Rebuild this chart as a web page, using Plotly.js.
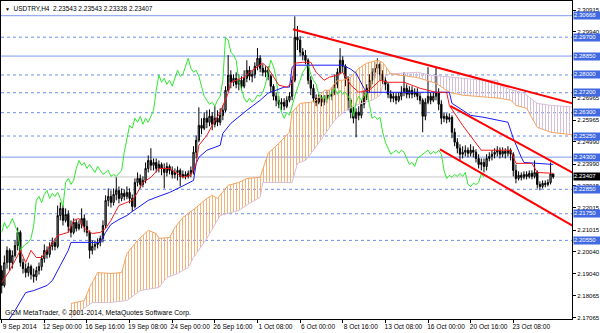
<!DOCTYPE html>
<html><head><meta charset="utf-8">
<script src="https://cdn.plot.ly/plotly-3.0.1.min.js"></script>
<style>html,body{margin:0;padding:0;background:#fff}#chart{width:600px;height:333px}</style>
</head><body><div id="chart"></div>
<script>
const symbol = 'USDTRY';
const timeframe = 'H4';
const barOpen = [2.1919,2.1852,2.1955,2.2010,2.1955,2.1987,2.2032,2.2091,2.1955,2.1928,
2.1910,2.1937,2.1901,2.1892,2.1919,2.1937,2.1973,2.2010,2.1992,2.2028,
2.2046,2.2028,2.2167,2.2199,2.2145,2.2172,2.2118,2.2091,2.2136,2.2109,
2.2127,2.2154,2.2118,2.2091,2.2010,2.2028,2.2037,2.2046,2.2064,2.2122,
2.2235,2.2253,2.2226,2.2262,2.2280,2.2244,2.2267,2.2253,2.2271,2.2244,
2.2208,2.2316,2.2334,2.2307,2.2325,2.2379,2.2415,2.2393,2.2406,2.2379,
2.2397,2.2379,2.2361,2.2388,2.2370,2.2352,2.2361,2.2370,2.2343,2.2352,
2.2343,2.2357,2.2370,2.2452,2.2506,2.2573,2.2560,2.2605,2.2587,2.2614,
2.2578,2.2605,2.2587,2.2618,2.2641,2.2731,2.2799,2.2767,2.2785,2.2758,
2.2776,2.2749,2.2785,2.2821,2.2794,2.2803,2.2839,2.2875,2.2830,2.2812,
2.2821,2.2794,2.2749,2.2704,2.2686,2.2668,2.2677,2.2659,2.2686,2.2704,
2.2776,2.2970,2.2957,2.2903,2.2889,2.2866,2.2776,2.2740,2.2695,2.2677,
2.2695,2.2677,2.2690,2.2709,2.2704,2.2722,2.2758,2.2812,2.2866,2.2839,
2.2785,2.2686,2.2632,2.2605,2.2632,2.2618,2.2668,2.2704,2.2740,2.2776,
2.2812,2.2830,2.2848,2.2803,2.2776,2.2758,2.2713,2.2695,2.2704,2.2686,
2.2704,2.2722,2.2740,2.2713,2.2731,2.2713,2.2722,2.2704,2.2686,2.2614,
2.2677,2.2704,2.2686,2.2704,2.2722,2.2668,2.2605,2.2614,2.2600,2.2609,
2.2542,2.2497,2.2470,2.2443,2.2452,2.2461,2.2447,2.2461,2.2452,2.2424,
2.2397,2.2406,2.2388,2.2424,2.2433,2.2443,2.2452,2.2461,2.2443,2.2456,
2.2447,2.2461,2.2443,2.2370,2.2334,2.2348,2.2339,2.2352,2.2343,2.2357,
2.2343,2.2361,2.2307,2.2298,2.2312,2.2307,2.2316,2.23543];
const barHigh = [2.1942,2.1987,2.2028,2.2019,2.2010,2.2055,2.2113,2.2100,2.1973,2.1951,
2.1955,2.1946,2.1928,2.1937,2.1955,2.1987,2.2037,2.2028,2.2046,2.2068,
2.2064,2.2212,2.2226,2.2212,2.2199,2.2190,2.2145,2.2154,2.2149,2.2145,
2.2199,2.2172,2.2145,2.2100,2.2055,2.2055,2.2064,2.2077,2.2145,2.2258,
2.2289,2.2280,2.2289,2.2339,2.2298,2.2289,2.2285,2.2298,2.2289,2.2262,
2.2334,2.2361,2.2352,2.2343,2.2406,2.2438,2.2470,2.2424,2.2424,2.2415,
2.2406,2.2402,2.2406,2.2397,2.2388,2.2379,2.2388,2.2379,2.2370,2.2366,
2.2370,2.2388,2.2479,2.2528,2.2654,2.2605,2.2632,2.2641,2.2645,2.2632,
2.2659,2.2641,2.2650,2.2663,2.2749,2.2889,2.2821,2.2803,2.2812,2.2803,
2.2794,2.2821,2.2866,2.2839,2.2821,2.2857,2.2921,2.2889,2.2848,2.2839,
2.2839,2.2803,2.2758,2.2722,2.2704,2.2695,2.2695,2.2704,2.2722,2.2794,
2.3064,2.3020,2.2975,2.2921,2.2912,2.2875,2.2794,2.2758,2.2713,2.2713,
2.2709,2.2709,2.2731,2.2731,2.2740,2.2803,2.2830,2.2921,2.2884,2.2848,
2.2794,2.2695,2.2659,2.2650,2.2659,2.2686,2.2731,2.2758,2.2803,2.2830,
2.2857,2.2875,2.2857,2.2821,2.2794,2.2767,2.2731,2.2722,2.2722,2.2722,
2.2749,2.2812,2.2758,2.2749,2.2749,2.2740,2.2740,2.2722,2.2695,2.2695,
2.2835,2.2722,2.2722,2.2835,2.2740,2.2686,2.2632,2.2627,2.2627,2.2618,
2.2560,2.2515,2.2488,2.2479,2.2483,2.2474,2.2488,2.2479,2.2465,2.2443,
2.2424,2.2424,2.2443,2.2452,2.2461,2.2470,2.2479,2.2474,2.2474,2.2470,
2.2479,2.2470,2.2452,2.2397,2.2366,2.2361,2.2366,2.2366,2.2370,2.2370,
2.2415,2.2370,2.2321,2.2325,2.2325,2.2330,2.2406,2.23543];
const barLow = [2.1816,2.1843,2.1928,2.1919,2.1928,2.1978,2.2010,2.1937,2.1906,2.1888,
2.1892,2.1879,2.1865,2.1874,2.1901,2.1919,2.1955,2.1973,2.1978,2.2010,
2.2010,2.2019,2.2145,2.2122,2.2136,2.2091,2.2068,2.2082,2.2095,2.2100,
2.2109,2.2091,2.2073,2.1973,2.1992,2.2010,2.2019,2.2028,2.2046,2.2109,
2.2208,2.2203,2.2212,2.2235,2.2222,2.2231,2.2235,2.2240,2.2222,2.2185,
2.2199,2.2298,2.2289,2.2294,2.2312,2.2361,2.2370,2.2370,2.2361,2.2361,
2.2348,2.2289,2.2343,2.2352,2.2334,2.2334,2.2325,2.2298,2.2334,2.2330,
2.2334,2.2339,2.2352,2.2424,2.2497,2.2533,2.2551,2.2560,2.2569,2.2551,
2.2564,2.2569,2.2573,2.2596,2.2632,2.2722,2.2740,2.2749,2.2740,2.2731,
2.2731,2.2740,2.2767,2.2776,2.2767,2.2785,2.2821,2.2812,2.2794,2.2790,
2.2776,2.2722,2.2686,2.2659,2.2650,2.2641,2.2641,2.2650,2.2677,2.2686,
2.2767,2.2912,2.2884,2.2866,2.2848,2.2758,2.2709,2.2677,2.2659,2.2668,
2.2659,2.2663,2.2672,2.2686,2.2686,2.2709,2.2740,2.2803,2.2812,2.2749,
2.2641,2.2605,2.2582,2.2519,2.2596,2.2605,2.2650,2.2686,2.2722,2.2758,
2.2785,2.2803,2.2776,2.2758,2.2731,2.2695,2.2677,2.2677,2.2668,2.2677,
2.2686,2.2704,2.2695,2.2695,2.2695,2.2700,2.2686,2.2668,2.2542,2.2596,
2.2668,2.2668,2.2677,2.2686,2.2641,2.2578,2.2587,2.2582,2.2587,2.2515,
2.2479,2.2447,2.2415,2.2424,2.2433,2.2429,2.2433,2.2429,2.2406,2.2379,
2.2370,2.2361,2.2370,2.2411,2.2415,2.2424,2.2433,2.2424,2.2429,2.2424,
2.2433,2.2415,2.2343,2.2312,2.2325,2.2325,2.2330,2.2330,2.2334,2.2330,
2.2334,2.2289,2.2280,2.2289,2.2294,2.2298,2.2307,2.23328];
const barClose = [2.1852,2.1955,2.2010,2.1955,2.1987,2.2032,2.2091,2.1955,2.1928,2.1910,
2.1937,2.1901,2.1892,2.1919,2.1937,2.1973,2.2010,2.1992,2.2028,2.2046,
2.2028,2.2167,2.2199,2.2145,2.2172,2.2118,2.2091,2.2136,2.2109,2.2127,
2.2154,2.2118,2.2091,2.2010,2.2028,2.2037,2.2046,2.2064,2.2122,2.2235,
2.2253,2.2226,2.2262,2.2280,2.2244,2.2267,2.2253,2.2271,2.2244,2.2208,
2.2316,2.2334,2.2307,2.2325,2.2379,2.2415,2.2393,2.2406,2.2379,2.2397,
2.2379,2.2361,2.2388,2.2370,2.2352,2.2361,2.2370,2.2343,2.2352,2.2343,
2.2357,2.2370,2.2452,2.2506,2.2573,2.2560,2.2605,2.2587,2.2614,2.2578,
2.2605,2.2587,2.2618,2.2641,2.2731,2.2799,2.2767,2.2785,2.2758,2.2776,
2.2749,2.2785,2.2821,2.2794,2.2803,2.2839,2.2875,2.2830,2.2812,2.2821,
2.2794,2.2749,2.2704,2.2686,2.2668,2.2677,2.2659,2.2686,2.2704,2.2776,
2.2970,2.2957,2.2903,2.2889,2.2866,2.2776,2.2740,2.2695,2.2677,2.2695,
2.2677,2.2690,2.2709,2.2704,2.2722,2.2758,2.2812,2.2866,2.2839,2.2785,
2.2686,2.2632,2.2605,2.2632,2.2618,2.2668,2.2704,2.2740,2.2776,2.2812,
2.2830,2.2848,2.2803,2.2776,2.2758,2.2713,2.2695,2.2704,2.2686,2.2704,
2.2722,2.2740,2.2713,2.2731,2.2713,2.2722,2.2704,2.2686,2.2614,2.2677,
2.2704,2.2686,2.2704,2.2722,2.2668,2.2605,2.2614,2.2600,2.2609,2.2542,
2.2497,2.2470,2.2443,2.2452,2.2461,2.2447,2.2461,2.2452,2.2424,2.2397,
2.2406,2.2388,2.2424,2.2433,2.2443,2.2452,2.2461,2.2443,2.2456,2.2447,
2.2461,2.2443,2.2370,2.2334,2.2348,2.2339,2.2352,2.2343,2.2357,2.2343,
2.2361,2.2307,2.2298,2.2312,2.2307,2.2316,2.2354,2.23407];

const tickBars = [0,16,32,48,64,80,96,112,128,144,160,176,192];
const tickLabels = ['9 Sep 2014','12 Sep 00:00','16 Sep 16:00','19 Sep 08:00','24 Sep 00:00','26 Sep 16:00','1 Oct 08:00','6 Oct 00:00','8 Oct 16:00','13 Oct 08:00','16 Oct 00:00','20 Oct 16:00','23 Oct 08:00'];
const priceTicks = [2.30915,2.29940,2.26965,2.25965,2.24990,2.23990,2.23015,2.22015,2.21015,2.20040,2.19040,2.18065,2.17065];

const tenkanBars = [0,3,6,7,9,11,13,15,17,19,21,25,27,29,31,34,37,39,41,43,44,47,49,51,53,56,59,63,66,68,71,73,74,77,79,82,85,86,88,91,93,96,98,100,102,104,107,109,110,113,116,118,121,123,126,128,131,134,138,142,145,151,157,163,167,168,173,177,180,186,191,193,199,201,207];
const tenkanVals = [2.1865,2.1919,2.1987,2.2010,2.1955,2.2010,2.1978,2.1978,2.2010,2.2046,2.2077,2.2091,2.2145,2.2154,2.2109,2.2086,2.2091,2.2109,2.2145,2.2190,2.2212,2.2226,2.2235,2.2271,2.2316,2.2339,2.2379,2.2379,2.2357,2.2339,2.2348,2.2402,2.2483,2.2528,2.2573,2.2632,2.2718,2.2767,2.2776,2.2790,2.2812,2.2835,2.2853,2.2830,2.2790,2.2754,2.2745,2.2763,2.2853,2.2857,2.2857,2.2812,2.2776,2.2790,2.2799,2.2812,2.2754,2.2722,2.2731,2.2776,2.2767,2.2767,2.2740,2.2722,2.2722,2.2663,2.2573,2.2506,2.2461,2.2461,2.2461,2.2402,2.2402,2.2361,2.2357];
const kijunBars = [2,5,9,12,17,19,22,25,26,37,39,41,44,47,49,52,55,58,63,67,72,73,74,77,82,83,86,92,97,100,106,108,109,110,128,131,133,136,137,168,169,176,181,190,192,195,196,207];
const kijunVals = [2.1685,2.1739,2.1820,2.1829,2.1852,2.1874,2.1942,2.2010,2.2046,2.2046,2.2091,2.2127,2.2149,2.2167,2.2185,2.2208,2.2235,2.2249,2.2271,2.2294,2.2325,2.2402,2.2429,2.2461,2.2483,2.2537,2.2582,2.2641,2.2686,2.2718,2.2745,2.2745,2.2835,2.2844,2.2844,2.2826,2.2808,2.2740,2.2722,2.2722,2.2672,2.2618,2.2609,2.2587,2.2515,2.2429,2.2406,2.2397];
const spanABars = [26,31,33,36,41,45,47,51,55,58,59,63,65,68,73,77,79,81,85,89,92,97,100,104,108,109,112,116,118,121,123,126,128,131,134,137,141,143,146,151,156,163,168,173,181,187,191,193,197,201,206,216];
const spanAVals = [2.1771,2.1784,2.1843,2.1910,2.1906,2.1910,2.1996,2.2055,2.2100,2.2086,2.2064,2.2068,2.2113,2.2158,2.2203,2.2244,2.2258,2.2244,2.2303,2.2316,2.2334,2.2339,2.2447,2.2492,2.2542,2.2632,2.2672,2.2677,2.2686,2.2731,2.2731,2.2776,2.2776,2.2790,2.2830,2.2853,2.2866,2.2857,2.2805,2.2795,2.2788,2.2763,2.2722,2.2709,2.2700,2.2695,2.2686,2.2663,2.2650,2.2564,2.2542,2.2528];
const spanBBars = [26,34,40,47,52,59,62,66,70,72,77,82,89,93,97,98,109,111,114,117,121,125,129,134,139,142,144,146,156,161,168,181,186,188,196,201,206,216];
const spanBVals = [2.1707,2.1775,2.1775,2.1784,2.1829,2.1843,2.1888,2.1906,2.1933,2.1978,2.2064,2.2167,2.2190,2.2222,2.2249,2.2316,2.2316,2.2402,2.2415,2.2461,2.2528,2.2596,2.2641,2.2668,2.2686,2.2709,2.2795,2.2805,2.2812,2.2799,2.2790,2.2776,2.2776,2.2745,2.2718,2.2672,2.2663,2.2654];
const cloudTwistBar = 146;
const chikouShift = 26;

const solidLevels = [2.30668, 2.28850, 2.24300];
const dashedLevels = [2.29700, 2.28000, 2.27200, 2.26300, 2.25250, 2.22850, 2.21750, 2.20550];

const trend1Bars = [109.35, 216], trend1Prices = [2.3006, 2.2666];
const trend2Bars = [168.3, 216], trend2Prices = [2.2661, 2.2348];
const trend3Bars = [164.5, 216], trend3Prices = [2.2465, 2.2109];

const copyright = 'GCM MetaTrader, \u00a9 2001-2014, MetaQuotes Software Corp.';

// ---------- build ----------
const FONT = 'Liberation Sans, Arial, sans-serif';
const idx = barOpen.map((_, i) => i);
const last = barClose.length - 1;

function seg(bars, vals, lo, hi) {
  const xs = [], ys = [];
  bars.forEach((b, i) => { if (b >= lo && b <= hi) { xs.push(b); ys.push(vals[i]); } });
  return {x: xs, y: ys};
}
const aUp = seg(spanABars, spanAVals, -1e9, cloudTwistBar);
const bUp = seg(spanBBars, spanBVals, -1e9, cloudTwistBar);
const aDn = seg(spanABars, spanAVals, cloudTwistBar, 1e9);
const bDn = seg(spanBBars, spanBVals, cloudTwistBar, 1e9);

const SANDY = '#F4A460', THISTLE = '#D8BFD8';
const traces = [
  {type:'scatter', mode:'lines', x:bUp.x, y:bUp.y, line:{color:THISTLE, width:1}},
  {type:'scatter', mode:'lines', x:aUp.x, y:aUp.y, line:{color:SANDY, width:1}, fill:'tonexty',
   fillcolor:SANDY, fillpattern:{shape:'|', size:3, solidity:0.34, fgcolor:SANDY, bgcolor:'rgba(0,0,0,0)', fgopacity:0.85}},
  {type:'scatter', mode:'lines', x:bDn.x, y:bDn.y, line:{color:THISTLE, width:1}},
  {type:'scatter', mode:'lines', x:aDn.x, y:aDn.y, line:{color:SANDY, width:1}, fill:'tonexty',
   fillcolor:THISTLE, fillpattern:{shape:'|', size:3, solidity:0.34, fgcolor:THISTLE, bgcolor:'rgba(0,0,0,0)', fgopacity:1}},
  {type:'candlestick', x:idx, open:barOpen, high:barHigh, low:barLow, close:barClose, whiskerwidth:0,
   increasing:{line:{color:'#000', width:1}, fillcolor:'#A4A4A4'},
   decreasing:{line:{color:'#000', width:1}, fillcolor:'#000'}},
  {type:'scatter', mode:'lines', x:barClose.slice(chikouShift).map((_, j) => j), y:barClose.slice(chikouShift), line:{color:'#2EE82E', width:1}},
  {type:'scatter', mode:'lines', x:kijunBars, y:kijunVals, line:{color:'#1A1AF5', width:1}},
  {type:'scatter', mode:'lines', x:tenkanBars, y:tenkanVals, line:{color:'#F51A1A', width:1}},
  {type:'scatter', mode:'lines', x:trend1Bars, y:trend1Prices, line:{color:'#FF0000', width:2}},
  {type:'scatter', mode:'lines', x:trend2Bars, y:trend2Prices, line:{color:'#FF0000', width:2}},
  {type:'scatter', mode:'lines', x:trend3Bars, y:trend3Prices, line:{color:'#FF0000', width:2}}
];

const shapes = [];
solidLevels.forEach(v => shapes.push({type:'line', xref:'paper', x0:0, x1:1, yref:'y', y0:v, y1:v, layer:'below', line:{color:'#7F9BEA', width:1}}));
dashedLevels.forEach(v => shapes.push({type:'line', xref:'paper', x0:0, x1:1, yref:'y', y0:v, y1:v, layer:'below', line:{color:'#6F8DE8', width:1, dash:'3px,3px'}}));
shapes.push({type:'line', xref:'paper', x0:0, x1:1, yref:'y', y0:barClose[last], y1:barClose[last], layer:'below', line:{color:'#C8C8C8', width:1}});

const boxFont = {family:FONT, size:6, color:'#fff'};
const annotations = [];
[...solidLevels, ...dashedLevels].forEach(v => annotations.push({
  xref:'paper', x:1, xanchor:'left', xshift:1, yref:'y', y:v, yanchor:'middle', text:v.toFixed(5), showarrow:false,
  bgcolor:'#4169E1', borderpad:0, width:26, height:6.5, align:'left', valign:'middle', font:boxFont}));
annotations.push({xref:'paper', x:1, xanchor:'left', xshift:1, yref:'y', y:barClose[last], yanchor:'middle',
  text:barClose[last].toFixed(5), showarrow:false, bgcolor:'#000', borderpad:0, width:26, height:6.5, align:'left', valign:'middle', font:boxFont});
annotations.push({xref:'paper', yref:'paper', x:0, y:1, xanchor:'left', yanchor:'top', xshift:2, yshift:-2, showarrow:false,
  text:'<span style="font-size:5px">\u25BC</span>  ' + symbol + ',' + timeframe + '  ' +
    [barOpen[last], barHigh[last], barLow[last], barClose[last]].map(v => v.toFixed(5)).join(' '),
  font:{family:FONT, size:6.5, color:'#000'}});
annotations.push({xref:'paper', yref:'paper', x:0, y:0, xanchor:'left', yanchor:'bottom', xshift:2, yshift:0, showarrow:false,
  text:copyright, font:{family:FONT, size:6.9, color:'#000'}});

const layout = {
  width:600, height:333,
  margin:{l:1, r:28, t:1, b:14, pad:0},
  paper_bgcolor:'#fff', plot_bgcolor:'#fff',
  showlegend:false, hovermode:false,
  font:{family:FONT, size:7, color:'#000'},
  xaxis:{range:[-0.26, 214.04], tickmode:'array', tickvals:tickBars, ticktext:tickLabels, tickangle:0, ticks:'outside', ticklen:3, tickcolor:'#000',
    tickfont:{family:FONT, size:6.6, color:'#000'}, ticklabelshift:18, ticklabelstandoff:-2, showgrid:false, zeroline:false, showline:true, mirror:true,
    linecolor:'#000', linewidth:1, rangeslider:{visible:false}, fixedrange:true},
  yaxis:{side:'right', range:[2.1701, 2.3133], tickmode:'array', tickvals:priceTicks, ticktext:priceTicks.map(v => v.toFixed(5)),
    ticks:'outside', ticklen:3, tickcolor:'#000', tickfont:{family:FONT, size:6.1, color:'#000'}, showgrid:false, zeroline:false,
    showline:true, mirror:true, linecolor:'#000', linewidth:1, fixedrange:true},
  shapes:shapes, annotations:annotations
};
Plotly.newPlot('chart', traces, layout, {displayModeBar:false, staticPlot:true});
</script></body></html>
